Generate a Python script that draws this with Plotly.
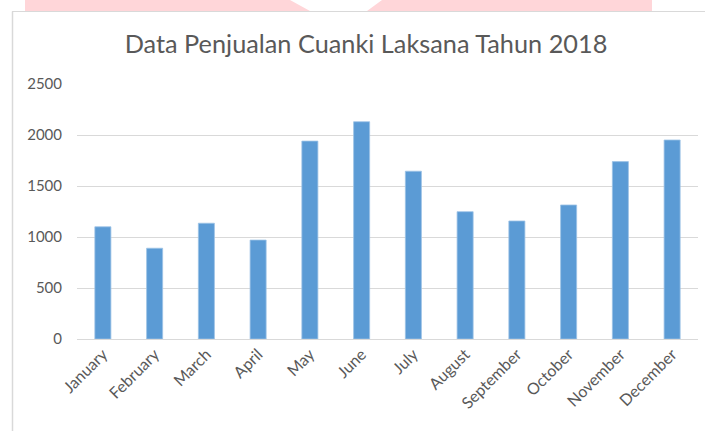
import plotly.graph_objects as go

months = ["January", "February", "March", "April", "May", "June", "July",
          "August", "September", "October", "November", "December"]
sales = [1100, 890, 1135, 970, 1940, 2130, 1645, 1248, 1157, 1314, 1739, 1951]
y_ticks = [0, 500, 1000, 1500, 2000, 2500]
title_text = "Data Penjualan Cuanki Laksana Tahun 2018"

W, H = 705, 431
PL, PR, PT, PB = 77, 698, 84, 339  # plot area in window pixels

fig = go.Figure(go.Bar(
    x=months, y=sales,
    marker=dict(color="#5B9BD5", line=dict(color="#9DC3E6", width=0.8)),
    hoverinfo="x+y",
))


def px(x):
    return (x - PL) / (PR - PL)


def py(y):
    return (PB - y) / (PB - PT)


pink_path = (f"M {px(25)},{py(0)} L {px(290)},{py(0)} L {px(310)},{py(11)} "
             f"L {px(367)},{py(11)} L {px(382)},{py(0)} L {px(652)},{py(0)} "
             f"L {px(652)},{py(11)} L {px(25)},{py(11)} Z")

fig.update_layout(
    width=W, height=H,
    margin=dict(l=PL, r=W - PR, t=PT, b=H - PB, autoexpand=False),
    paper_bgcolor="white", plot_bgcolor="white",
    bargap=0.69,
    showlegend=False,
    font=dict(family="Lato, 'Open Sans', sans-serif", color="#595959", size=15),
    title=dict(text=title_text, x=366 / W, xanchor="center",
               y=1 - 44 / H, yanchor="middle",
               font=dict(size=25.3, color="#595959", family="Lato, sans-serif")),
    xaxis=dict(tickangle=-45, showgrid=False, showline=False, ticks="",
               ticklabelstandoff=2, tickfont=dict(size=16, color="#595959")),
    yaxis=dict(range=[0, 2500], tickvals=y_ticks, showgrid=True, gridcolor="#D9D9D9",
               gridwidth=1, zeroline=True, zerolinecolor="#D9D9D9", zerolinewidth=1,
               ticks="", ticklabelstandoff=14, tickfont=dict(size=15, color="#595959")),
    shapes=[
        dict(type="path", path=pink_path, xref="paper", yref="paper",
             fillcolor="#FFD6D9", line=dict(width=0), layer="below"),
        dict(type="line", xref="paper", yref="paper", x0=px(12), x1=px(705), y0=py(11.5), y1=py(11.5),
             line=dict(color="#D9D9D9", width=1)),
        dict(type="line", xref="paper", yref="paper", x0=px(12.5), x1=px(12.5), y0=py(11.5), y1=py(431),
             line=dict(color="#D9D9D9", width=1.5)),
    ],
)
fig.write_html("out.html", config={"displayModeBar": False},
               post_script="document.body.style.margin='0';document.body.style.overflow='hidden';")
